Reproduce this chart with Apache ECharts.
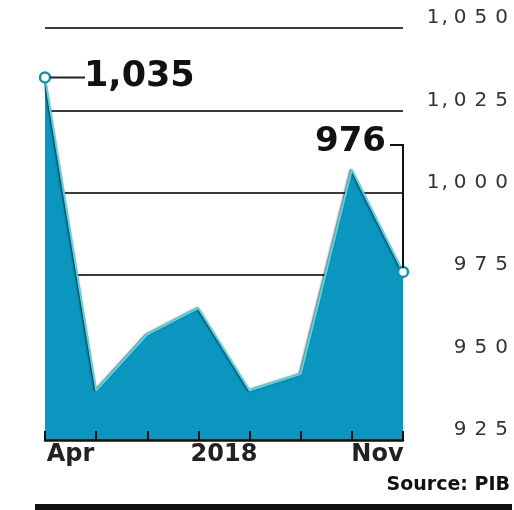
<!DOCTYPE html>
<html><head><meta charset="utf-8">
<script src="https://cdn.jsdelivr.net/npm/echarts@6/dist/echarts.min.js"></script>
<style>html,body{margin:0;padding:0;background:#fff}#c{width:514px;height:510px}</style>
</head><body><div id="c"></div>
<script>
const months = ['Apr','May','Jun','Jul','Aug','Sep','Oct','Nov'];
const prices = [1035, 940, 957, 965, 940, 945, 1007, 976];
const periodLabels = ['Apr','','','2018','','','Nov'];
const yMin = 925, yMax = 1050, yStep = 25;
const sourceText = 'Source: PIB';
const annotated = [0, 7];

const fmt = v => Number(v).toLocaleString('en-US');
function spaced(s){
  return s.split('').map((ch,i)=>'{' + (ch===',' ? 'm' : (i===0 ? 'f' : (s[i-1]===',' ? 'a' : 'd'))) + '|' + ch + '}').join('');
}

const chart = echarts.init(document.getElementById('c'));
const GRID = {left:45, right:111, top:28, bottom:70};
const lab = {fontFamily:'DejaVu Sans', fontSize:20, color:'#333', lineHeight:20};
chart.setOption({
  animation:false,
  backgroundColor:'#fff',
  grid: GRID,
  xAxis: [{
    type:'category', data: months, boundaryGap:false,
    axisLine:{show:true, lineStyle:{color:'#111', width:2.5}},
    axisTick:{show:true, inside:true, length:9, lineStyle:{color:'#111', width:2}},
    axisLabel:{show:false}, splitLine:{show:false}, z:5
  },{
    type:'category', data: periodLabels, boundaryGap:true, position:'bottom',
    axisLine:{show:false}, axisTick:{show:false}, splitLine:{show:false},
    axisLabel:{show:true, interval:0, margin:3, fontFamily:'DejaVu Sans', fontWeight:'bold', fontSize:24, color:'#222'}
  }],
  yAxis: {
    type:'value', position:'right', min:yMin, max:yMax, interval:yStep,
    axisLine:{show:false}, axisTick:{show:false},
    splitLine:{show:true, lineStyle:{color:['transparent','transparent','#3a3a3a','#3a3a3a','#3a3a3a','#3a3a3a'], width:2}},
    axisLabel:{
      align:'right', margin:105, verticalAlign:'bottom',
      formatter: v => spaced(fmt(v)),
      rich:{
        f:Object.assign({}, lab),
        d:Object.assign({padding:[0,0,0,8]}, lab),
        a:Object.assign({padding:[0,0,0,6]}, lab),
        m:Object.assign({padding:[0,0,0,2]}, lab)
      }
    }
  },
  series: [{
    type:'line', xAxisIndex:0, data: prices.map((v,i)=> annotated.includes(i) ? {value:v} : {value:v, symbol:'none'}),
    symbol:'circle', symbolSize:10, showSymbol:true,
    itemStyle:{color:'#fff', borderColor:'#1d8fa8', borderWidth:2.5},
    lineStyle:{color:'#5fd0dc', width:2, shadowColor:'rgba(0,0,0,0.7)', shadowBlur:2, shadowOffsetX:-1},
    areaStyle:{color:'#0a96bf', origin:'start', opacity:1},
    z:3
  }]
});

const p0 = chart.convertToPixel({seriesIndex:0}, [0, prices[0]]);
const p7 = chart.convertToPixel({seriesIndex:0}, [7, prices[7]]);
const bracketY = GRID.top + 117;
chart.setOption({
  graphic: [
    {type:'line', shape:{x1:p0[0]+5, y1:p0[1], x2:p0[0]+40, y2:p0[1]}, style:{stroke:'#222', lineWidth:2}, z:10},
    {type:'text', x:p0[0]+39, y:p0[1]-1, style:{text:fmt(prices[0]), font:'bold 35px "DejaVu Sans"', fill:'#111', verticalAlign:'middle'}, z:10},
    {type:'text', x:p7[0]-17, y:bracketY+14, style:{text:fmt(prices[7]), font:'bold 34px "DejaVu Sans"', fill:'#111', align:'right', verticalAlign:'bottom'}, z:10},
    {type:'polyline', shape:{points:[[p7[0]-13, bracketY],[p7[0], bracketY],[p7[0], p7[1]-4]]}, style:{stroke:'#111', lineWidth:2, fill:null}, z:10},
    {type:'text', right:4, top:476, style:{text:sourceText, font:'bold 19px "DejaVu Sans"', fill:'#111'}, z:10},
    {type:'rect', shape:{x:35, y:504, width:477, height:6}, style:{fill:'#111'}, z:10}
  ]
});
</script></body></html>
